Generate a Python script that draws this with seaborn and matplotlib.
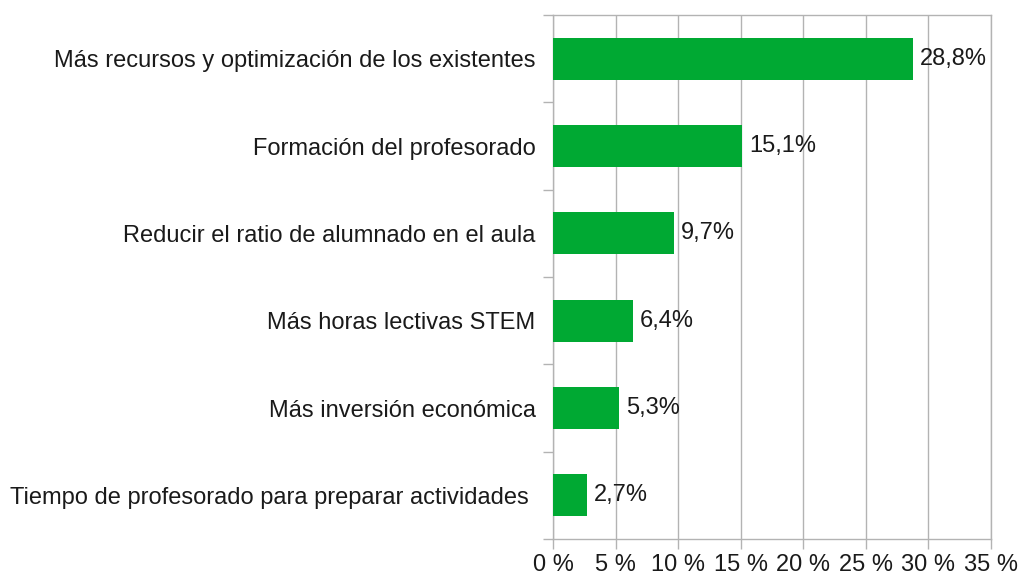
import matplotlib
matplotlib.use("Agg")
import matplotlib.pyplot as plt
import matplotlib.transforms as mtransforms
import seaborn as sns
import pandas as pd
import numpy as np
from matplotlib.ticker import FixedLocator

categories = [
    "Más recursos y optimización de los existentes",
    "Formación del profesorado",
    "Reducir el ratio de alumnado en el aula",
    "Más horas lectivas STEM",
    "Más inversión económica",
    "Tiempo de profesorado para preparar actividades",
]
values = [28.8, 15.1, 9.7, 6.4, 5.3, 2.7]
value_labels = ["28,8%", "15,1%", "9,7%", "6,4%", "5,3%", "2,7%"]
x_ticks = [0, 5, 10, 15, 20, 25, 30, 35]
x_tick_labels = ["0 %", "5 %", "10 %", "15 %", "20 %", "25 %", "30 %", "35 %"]

df = pd.DataFrame({"cat": categories, "val": values})

sns.set_theme(style="white")
plt.rcParams["font.family"] = ["Liberation Sans", "DejaVu Sans"]

fig = plt.figure(figsize=(10.19, 5.77), dpi=100)
ax = fig.add_axes([553 / 1019, 1 - 539 / 577, (991 - 553) / 1019, (539 - 15) / 577])

grid_c = "#b3b3b3"
fs = 17
sns.barplot(data=df, y="cat", x="val", orient="h", color="#00a933",
            width=0.48, saturation=1, ax=ax, zorder=3)
for p in ax.patches:
    p.set_edgecolor("none")

ax.set_xlim(0, 35)
ax.set_ylim(len(categories) - 0.5, -0.5)
ax.set_xticks(x_ticks)
ax.set_xticklabels(x_tick_labels, fontsize=fs, color="#1a1a1a")
ax.tick_params(axis="x", length=7, width=1, color=grid_c, pad=3.5, bottom=True)
ax.set_yticks(range(len(categories)))
ax.set_yticklabels(categories, fontsize=fs, color="#1a1a1a")
ax.tick_params(axis="y", which="major", length=0, pad=12.5)
ax.yaxis.set_minor_locator(FixedLocator(np.arange(-0.5, len(categories), 1.0)))
ax.tick_params(axis="y", which="minor", length=7.5, width=1, color=grid_c, left=True)
ax.set_xlabel("")
ax.set_ylabel("")

# the longest label sits slightly further left in the original
last = ax.get_yticklabels()[-1]
last.set_transform(last.get_transform() +
                   mtransforms.ScaledTranslation(-0.07, 0, fig.dpi_scale_trans))

ax.grid(axis="x", color=grid_c, linewidth=1, zorder=0)
ax.set_axisbelow(True)
for s in ["top", "right", "bottom", "left"]:
    ax.spines[s].set_visible(True)
    ax.spines[s].set_color(grid_c)
    ax.spines[s].set_linewidth(1)

for cont in ax.containers:
    ax.bar_label(cont, labels=value_labels, padding=5, fontsize=fs, color="#1a1a1a")

fig.savefig("out.png", dpi=100)
